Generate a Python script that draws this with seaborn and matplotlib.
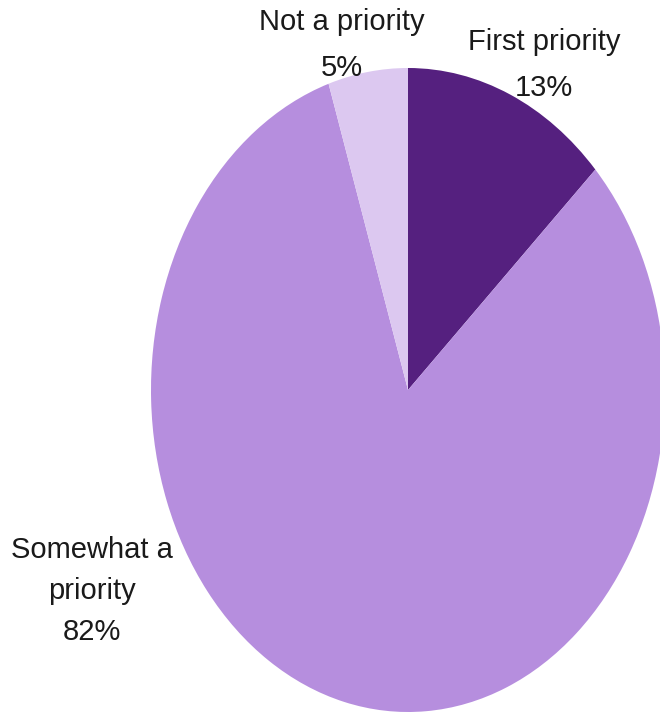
import matplotlib
matplotlib.use("Agg")
import matplotlib.pyplot as plt
import seaborn as sns

categories = ["First priority", "Somewhat a\npriority", "Not a priority"]
values = [13, 82, 5]
colors = ["#55207F", "#B68EDE", "#DCC8F0"]

sns.set_theme(style="white")
plt.rcParams["font.family"] = ["Liberation Sans", "DejaVu Sans"]

fig = plt.figure(figsize=(6.6, 7.12), dpi=100)
ax = fig.add_axes([0, 0, 1, 1])
wedges, _ = ax.pie(values, colors=colors, startangle=90, counterclock=False,
                   wedgeprops=dict(linewidth=0))
ax.set_aspect("auto")
# pie centred at pixel (408, 390) with radii 257 x 322 px
ax.set_xlim(-408 / 257, (660 - 408) / 257)
ax.set_ylim(-(712 - 390) / 322, 390 / 322)
ax.axis("off")

label_pos = [(544, 65, 1.85), (92, 591, 1.6), (342, 45, 1.85)]
for cat, val, (px, py, ls) in zip(categories, values, label_pos):
    ax.text(px / 660, 1 - py / 712, f"{cat}\n{val}%", transform=ax.transAxes,
            ha="center", va="center", fontsize=21, color="#1a1a1a",
            linespacing=ls, multialignment="center")

fig.savefig("out.png", dpi=100)
